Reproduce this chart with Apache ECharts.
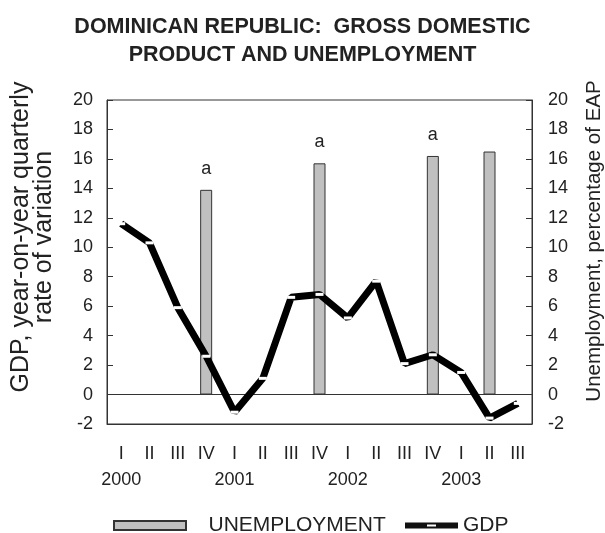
<!DOCTYPE html>
<html>
<head>
<meta charset="utf-8">
<script src="https://cdn.jsdelivr.net/npm/echarts@6/dist/echarts.min.js"></script>
<style>html,body{margin:0;padding:0;background:#fff;}#c{width:605px;height:533px;}</style>
</head>
<body>
<div id="c"></div>
<script>
var quarters = ['I','II','III','IV','I','II','III','IV','I','II','III','IV','I','II','III'];
var years = ['2000','','','','2001','','','','2002','','','','2003','',''];
var gdp = [11.6, 10.3, 5.9, 2.6, -1.2, 1.1, 6.6, 6.8, 5.2, 7.7, 2.1, 2.7, 1.5, -1.6, -0.6];
var unemployment = [null, null, null, 13.9, null, null, null, 15.7, null, null, null, 16.2, null, 16.5, null];
var notes = ['', '', '', 'a', '', '', '', 'a', '', '', '', 'a', '', '', ''];
var yTicks = {min: -2, max: 20, interval: 2};

var FONT = 'Liberation Sans';
var cats = quarters.map(function (q, i) { return years[i] ? q + '\n' + years[i] : q; });
var barData = unemployment.map(function (v, i) {
  if (v === null) return null;
  return notes[i] ? {value: v, label: {show: true, formatter: notes[i]}} : {value: v};
});

var chart = echarts.init(document.getElementById('c'), null, {renderer: 'canvas'});
chart.setOption({
  animation: false,
  backgroundColor: '#fff',
  textStyle: {fontFamily: FONT},
  title: {
    text: 'DOMINICAN REPUBLIC:  GROSS DOMESTIC\nPRODUCT AND UNEMPLOYMENT',
    left: 'center', top: 8,
    textStyle: {fontFamily: FONT, fontWeight: 'bold', fontSize: 21.5, lineHeight: 28, color: '#222'}
  },
  grid: {left: 107, right: 73, top: 100, bottom: 109, show: true, borderColor: '#333', borderWidth: 1,
         outerBoundsMode: 'none', containLabel: false},
  legend: [
    {data: [{name: 'UNEMPLOYMENT', icon: 'rect'}], left: 113, top: 515, padding: 0, itemWidth: 72, itemHeight: 9,
     formatter: '   {name}',
     textStyle: {fontFamily: FONT, fontSize: 21, color: '#222'}},
    {data: [{name: 'GDP', icon: 'path://M0,0 L53,0 L53,6 L0,6 Z M22,2 L22,4 L31,4 L31,2 Z',
             itemStyle: {color: '#111'}, lineStyle: {width: 0}}],
     left: 405, top: 515, padding: 0, itemWidth: 53, itemHeight: 6, itemGap: 0,
     textStyle: {fontFamily: FONT, fontSize: 21, color: '#222'}}
  ],
  xAxis: {
    type: 'category', data: cats, boundaryGap: true,
    axisLine: {onZero: false, lineStyle: {color: '#333'}},
    axisTick: {show: false},
    axisLabel: {interval: 0, color: '#222', fontSize: 18, lineHeight: 26, margin: 17, fontFamily: FONT}
  },
  yAxis: [
    {type: 'value', min: yTicks.min, max: yTicks.max, interval: yTicks.interval,
     name: 'GDP, year-on-year quarterly\nrate of variation', nameLocation: 'middle', nameGap: 51, nameRotate: 90,
     nameTextStyle: {fontFamily: FONT, fontSize: 25, lineHeight: 23, color: '#222', padding: [0, 0, 0, 50]},
     axisLine: {show: true, lineStyle: {color: '#333'}},
     axisTick: {show: true, inside: true, length: 6, lineStyle: {color: '#333'}},
     axisLabel: {color: '#222', fontSize: 18, margin: 14, fontFamily: FONT},
     splitLine: {show: false}},
    {type: 'value', min: yTicks.min, max: yTicks.max, interval: yTicks.interval, position: 'right',
     name: 'Unemployment, percentage of EAP', nameLocation: 'middle', nameGap: 52, nameRotate: 90,
     nameTextStyle: {fontFamily: FONT, fontSize: 20.5, color: '#222', padding: [0, 0, 0, 42]},
     axisLine: {show: true, lineStyle: {color: '#333'}},
     axisTick: {show: true, inside: true, length: 6, lineStyle: {color: '#333'}},
     axisLabel: {color: '#222', fontSize: 18, margin: 16, fontFamily: FONT},
     splitLine: {show: false}}
  ],
  series: [
    {name: 'UNEMPLOYMENT', type: 'bar', yAxisIndex: 1, data: barData, barWidth: 12,
     itemStyle: {color: '#c0c0c0', borderColor: '#333', borderWidth: 1},
     label: {show: false, position: 'top', distance: 12, fontFamily: FONT, fontSize: 18, color: '#222'}},
    {name: 'GDP', type: 'line', yAxisIndex: 0, data: gdp, z: 5,
     lineStyle: {color: '#000', width: 7},
     symbol: 'rect', symbolSize: [8, 3], showAllSymbol: true,
     itemStyle: {color: '#fff', borderWidth: 0},
     markLine: {silent: true, symbol: 'none', label: {show: false},
       lineStyle: {color: '#333', width: 1, type: 'solid'}, data: [{yAxis: 0}]}}
  ]
});
</script>
</body>
</html>
